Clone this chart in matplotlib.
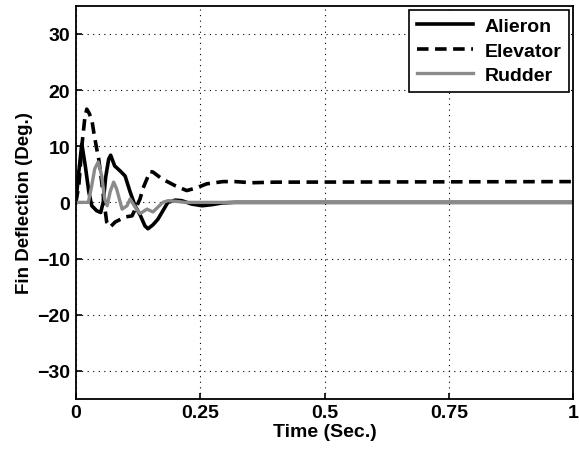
import matplotlib
matplotlib.use("Agg")
import matplotlib.pyplot as plt

plt.rcParams['font.family'] = ['Liberation Sans', 'DejaVu Sans']
plt.rcParams['font.weight'] = 'bold'

# Alieron (solid)
t_ail = [0, 0.006, 0.012, 0.019, 0.026, 0.032, 0.042, 0.05, 0.055, 0.06, 0.066, 0.07,
         0.078, 0.089, 0.099, 0.109, 0.119, 0.129, 0.139, 0.145, 0.155, 0.165, 0.175,
         0.185, 0.2, 0.213, 0.233, 0.254, 0.274, 0.294, 0.32, 1.0]
ail = [0, 5.5, 10.4, 6.5, 1.9, -0.6, -1.5, -1.8, 0, 4.5, 7.7, 8.4,
       6.5, 5.6, 4.7, 1.9, -0.6, -2.2, -4.2, -4.7, -4.0, -3, -1.5,
       0, 0.4, 0.3, -0.3, -0.6, -0.4, -0.1, 0, 0]

# Elevator (dashed)
t_elev = [0, 0.006, 0.012, 0.018, 0.022, 0.026, 0.032, 0.036, 0.042, 0.046, 0.052,
          0.056, 0.062, 0.069, 0.079, 0.099, 0.113, 0.129, 0.135, 0.143, 0.149, 0.155,
          0.173, 0.199, 0.223, 0.243, 0.263, 0.296, 0.32, 0.354, 0.4, 1.0]
elev = [0, 3, 10, 15, 16.6, 16, 14.8, 12.5, 9.5, 7.7, 3.6,
        0.6, -3.5, -4.4, -3.5, -2.6, -2.4, 0.6, 2.5, 4.2, 5.5, 5.4,
        4.2, 3.0, 2.1, 2.6, 3.3, 3.7, 3.7, 3.5, 3.6, 3.7]

# Rudder (gray)
t_rud = [0, 0.025, 0.032, 0.038, 0.045, 0.052, 0.058, 0.063, 0.069, 0.076, 0.082,
         0.093, 0.103, 0.109, 0.119, 0.129, 0.143, 0.155, 0.175, 0.185, 0.2, 0.22, 1.0]
rud = [0, 0, 3, 6, 7.2, 4.7, 0.6, -0.6, 1.9, 3.6, 2.4,
       -1.2, -0.6, 0.6, -0.8, -2, -1.2, -1.7, 0, 0.3, 0.2, 0, 0]

fig = plt.figure(figsize=(5.79, 4.56), dpi=100)
ax = fig.add_axes([0.131, 0.123, 0.859, 0.862])

ax.plot(t_ail, ail, color='black', lw=2.6, label='Alieron')
ax.plot(t_elev, elev, color='black', lw=2.6, ls=(0, (3.2, 1.8)), label='Elevator')
ax.plot(t_rud, rud, color='#8a8a8a', lw=2.4, label='Rudder')

ax.set_xlim(0, 1)
ax.set_ylim(-35, 35)
ax.set_xticks([0, 0.25, 0.5, 0.75, 1])
ax.set_xticklabels(['0', '0.25', '0.5', '0.75', '1'])
ax.set_yticks([-30, -20, -10, 0, 10, 20, 30])
ax.grid(True, color='black', ls=(0, (1, 4)), lw=0.8)
ax.tick_params(direction='in', length=4, width=1.2, labelsize=14, pad=4)
for s in ax.spines.values():
    s.set_linewidth(1.3)

ax.set_xlabel('Time (Sec.)', fontsize=14, fontweight='bold', labelpad=1)
ax.set_ylabel('Fin Deflection (Deg.)', fontsize=13.5, fontweight='bold', labelpad=3)

leg = ax.legend(loc='upper right', fontsize=14, fancybox=False, edgecolor='black',
                framealpha=1, handlelength=2.9, borderaxespad=0.2,
                borderpad=0.4, labelspacing=0.35, handletextpad=0.6)
leg.get_frame().set_linewidth(1.2)
for txt in leg.get_texts():
    txt.set_fontweight('bold')

fig.savefig('out.png', dpi=100)
